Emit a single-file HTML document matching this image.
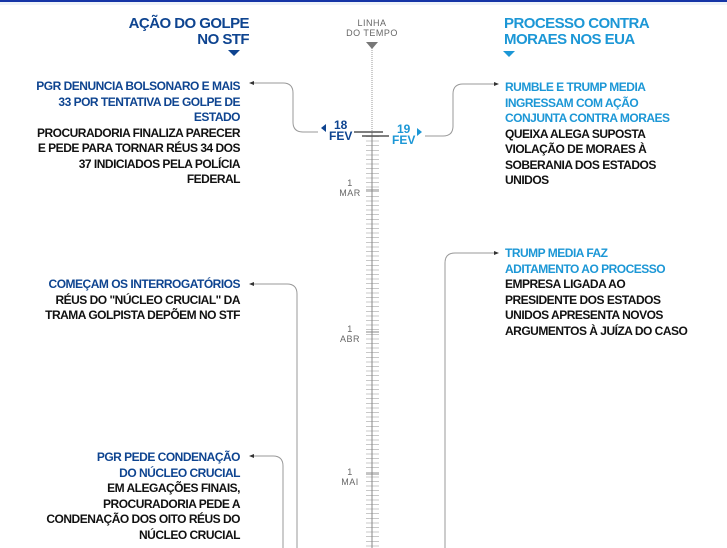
<!DOCTYPE html>
<html><head><meta charset="utf-8"><style>
body{margin:0;width:727px;height:548px;overflow:hidden;background:#fff;position:relative;font-family:"Liberation Sans",sans-serif;font-weight:bold}
.t{position:absolute;font-size:12px;line-height:15.5px;color:#111;white-space:nowrap;letter-spacing:-0.5px}
.r{text-align:right}
.db{color:#0e4490}.lb{color:#1c97d6}
.h{position:absolute;font-size:15px;line-height:16px;letter-spacing:-0.55px;white-space:nowrap}
.m{position:absolute;font-family:"Liberation Sans",sans-serif;font-weight:normal;font-size:9px;line-height:10px;color:#666;text-align:center;letter-spacing:0.5px}
</style></head><body>
<div style="position:absolute;left:0;top:0;width:727px;height:2px;background:#1535a6"></div>
<div style="position:absolute;left:0;top:2px;width:727px;height:3px;background:#eef3f9"></div>
<div style="position:absolute;left:366px;top:136px;width:13px;height:412px;background:repeating-linear-gradient(to bottom,#c8c8c8 0,#c8c8c8 1px,transparent 1px,transparent 4.6px)"></div>
<svg width="727" height="548" style="position:absolute;left:0;top:0">
<line x1="372" y1="48" x2="372" y2="132" stroke="#999" stroke-width="1" stroke-dasharray="1,1"/>
<line x1="372" y1="132" x2="372" y2="548" stroke="#888" stroke-width="1"/>
<polygon points="366,42 378,42 372,49" fill="#777"/>
<line x1="354" y1="132" x2="383" y2="132" stroke="#555" stroke-width="1.5"/>
<line x1="362" y1="136" x2="389" y2="136" stroke="#555" stroke-width="1.5"/>
<line x1="366" y1="190" x2="379" y2="190" stroke="#888"/>
<line x1="366" y1="332" x2="379" y2="332" stroke="#888"/>
<line x1="366" y1="474" x2="379" y2="474" stroke="#888"/>
<g fill="none" stroke="#999" stroke-width="1">
<path d="M252,83 H283 Q293,83 293,93 V122 Q293,132 303,132 H318"/>
<path d="M425,136 H443 Q453,136 453,126 V94 Q453,84 463,84 H495"/>
<path d="M252,284 H287 Q297,284 297,294 V548"/>
<path d="M252,456 H273 Q283,456 283,466 V548"/>
<path d="M496,253 H455 Q445,253 445,263 V548"/>
</g>
<polygon points="249,83 254,81 254,85" fill="#333"/>
<polygon points="249,284 254,282 254,286" fill="#333"/>
<polygon points="249,456 254,454 254,458" fill="#333"/>
<polygon points="499,84 494,82 494,86" fill="#333"/>
<polygon points="499,253 494,251 494,255" fill="#333"/>
<polygon points="321,128 326,124 326,132" fill="#0e4490"/>
<polygon points="422,132 417,128 417,136" fill="#1c97d6"/>
<polygon points="228,50 240,50 234,56" fill="#0e4490"/>
<polygon points="503,51 515,51 509,57" fill="#1c97d6"/>
</svg>
<div class="m" style="left:345px;top:18px;width:54px">LINHA<br>DO TEMPO</div>
<div class="h db r" style="right:478px;top:16px">AÇÃO DO GOLPE<br>NO STF</div>
<div class="h lb" style="left:504px;top:16px">PROCESSO CONTRA<br>MORAES NOS EUA</div>
<div class="t db" style="left:329px;top:120px;font-size:12px;line-height:11px;text-align:center;letter-spacing:0">18<br>FEV</div>
<div class="t lb" style="left:392px;top:124px;font-size:12px;line-height:11px;text-align:center;letter-spacing:0">19<br>FEV</div>
<div class="m" style="left:335px;top:178px;width:30px">1<br>MAR</div>
<div class="m" style="left:335px;top:324px;width:30px">1<br>ABR</div>
<div class="m" style="left:335px;top:467px;width:30px">1<br>MAI</div>
<div class="t r" style="right:487px;top:79px"><span class="db">PGR DENUNCIA BOLSONARO E MAIS<br>33 POR TENTATIVA DE GOLPE DE<br>ESTADO</span><br>PROCURADORIA FINALIZA PARECER<br>E PEDE PARA TORNAR RÉUS 34 DOS<br>37 INDICIADOS PELA POLÍCIA<br>FEDERAL</div>
<div class="t" style="left:505px;top:80px"><span class="lb">RUMBLE E TRUMP MEDIA<br>INGRESSAM COM AÇÃO<br>CONJUNTA CONTRA MORAES</span><br>QUEIXA ALEGA SUPOSTA<br>VIOLAÇÃO DE MORAES À<br>SOBERANIA DOS ESTADOS<br>UNIDOS</div>
<div class="t r" style="right:487px;top:277px"><span class="db">COMEÇAM OS INTERROGATÓRIOS</span><br>RÉUS DO "NÚCLEO CRUCIAL" DA<br>TRAMA GOLPISTA DEPÕEM NO STF</div>
<div class="t" style="left:505px;top:246px"><span class="lb">TRUMP MEDIA FAZ<br>ADITAMENTO AO PROCESSO</span><br>EMPRESA LIGADA AO<br>PRESIDENTE DOS ESTADOS<br>UNIDOS APRESENTA NOVOS<br>ARGUMENTOS À JUÍZA DO CASO</div>
<div class="t r" style="right:487px;top:450px"><span class="db">PGR PEDE CONDENAÇÃO<br>DO NÚCLEO CRUCIAL</span><br>EM ALEGAÇÕES FINAIS,<br>PROCURADORIA PEDE A<br>CONDENAÇÃO DOS OITO RÉUS DO<br>NÚCLEO CRUCIAL</div>
</body></html>
